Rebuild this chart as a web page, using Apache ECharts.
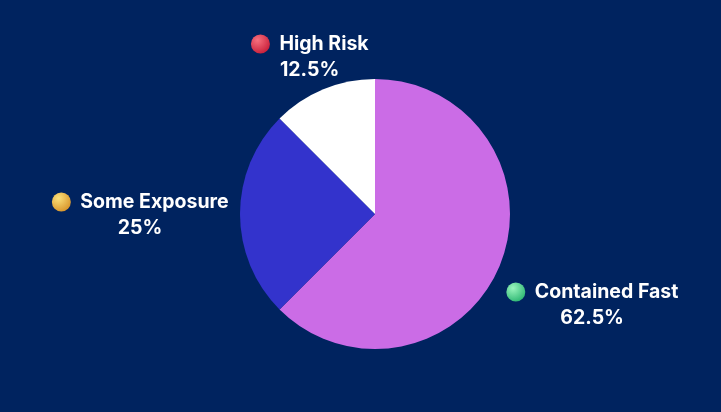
<!DOCTYPE html>
<html>
<head>
    <meta charset="UTF-8">
    <title>ECharts</title>
    <script type="text/javascript" src="https://cdn.jsdelivr.net/npm/echarts@6/dist/echarts.min.js"></script>
    <style>
        html, body { margin: 0; padding: 0; background: #00235f; }
    </style>
</head>
<body>
<div id="main" style="width: 721px;height:412px;"></div>
<script type="text/javascript">
    // data
    var categories = ['Contained Fast', 'Some Exposure', 'High Risk'];
    var shares = [62.5, 25, 12.5];
    var sliceColors = ['#cb6ce6', '#3333cc', '#ffffff'];
    var iconColors = [['#9af5bd', '#2fb874'], ['#fbe07a', '#d8952b'], ['#f7707e', '#c81f3a']];

    var cx = 375, cy = 214, radius = 135;

    // small shaded ball used as the legend-ish marker in each label
    function ball(c) {
        var svg = '<svg xmlns="http://www.w3.org/2000/svg" width="40" height="40">' +
            '<defs><radialGradient id="g" cx="35%" cy="30%" r="75%">' +
            '<stop offset="0" stop-color="' + c[0] + '"/><stop offset="1" stop-color="' + c[1] + '"/>' +
            '</radialGradient></defs><circle cx="20" cy="20" r="19" fill="url(#g)"/></svg>';
        return 'data:image/svg+xml;charset=utf-8,' + encodeURIComponent(svg);
    }

    var total = shares.reduce(function (a, b) { return a + b; }, 0);
    var midAngles = [];
    var acc = 0;
    for (var i = 0; i < shares.length; i++) {
        midAngles.push((acc + shares[i] / 2) / total * Math.PI * 2);
        acc += shares[i];
    }

    var pieData = [];
    var rich = {
        name: { color: '#ffffff', fontSize: 19.5, fontWeight: 700, fontFamily: 'Inter', lineHeight: 26, padding: [0, 0, 0, 9] },
        pct: { color: '#ffffff', fontSize: 19.5, fontWeight: 700, fontFamily: 'Inter', lineHeight: 26 }
    };
    for (var i = 0; i < categories.length; i++) {
        rich['ic' + i] = { width: 20, height: 20, backgroundColor: { image: ball(iconColors[i]) } };
        pieData.push({
            name: categories[i],
            value: shares[i],
            itemStyle: { color: sliceColors[i] },
            label: { formatter: '{ic' + i + '|}{name|{b}}\n{pct|' + shares[i] + '%}' }
        });
    }

    var myChart = echarts.init(document.getElementById('main'));
    var option = {
        backgroundColor: '#00235f',
        animation: false,
        series: [
            {
                type: 'pie',
                center: [cx, cy],
                radius: radius,
                startAngle: 90,
                clockwise: true,
                silent: true,
                data: pieData,
                label: { show: true, position: 'outside', align: 'center', overflow: 'none', rich: rich },
                labelLine: { show: false },
                labelLayout: function (p) {
                    var a = midAngles[p.dataIndex];
                    var dx = Math.sin(a), dy = -Math.cos(a);
                    var r = 235;
                    // keep the label block inside the top of the canvas
                    if (cy + dy * r < 56) r = (cy - 56) / -dy;
                    return { x: cx + dx * r, y: cy + dy * r + 1, align: 'center', verticalAlign: 'middle' };
                }
            }
        ]
    };
    myChart.setOption(option);
</script>
</body>
</html>
